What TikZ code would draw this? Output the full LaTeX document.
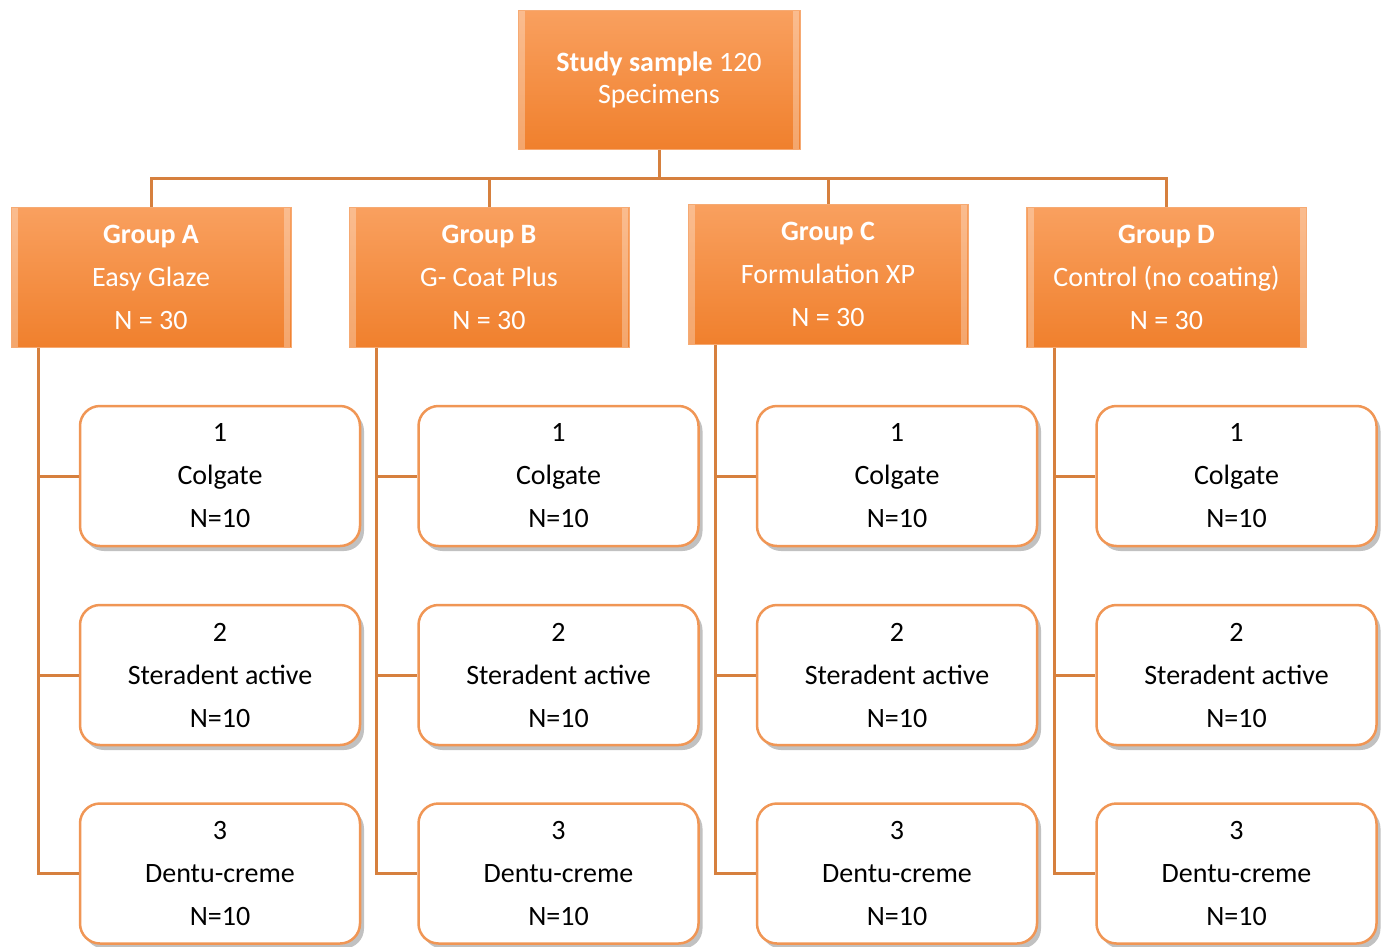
\documentclass[tikz,border=0pt]{standalone}
\usepackage{fontspec}
\setmainfont{Carlito}
\usetikzlibrary{shadows,calc}
\definecolor{orTop}{RGB}{249,160,95}
\definecolor{orBot}{RGB}{240,128,45}
\definecolor{orEdge}{RGB}{246,170,115}
\definecolor{conn}{RGB}{214,128,62}
\definecolor{leafEdge}{RGB}{240,150,85}
\tikzset{
  grp/.style={rectangle, minimum width=280pt, minimum height=140pt, inner sep=0pt,
    top color=orTop, bottom color=orBot, draw=orEdge, line width=1pt,
    text=white, align=center, font=\fontsize{28}{43}\selectfont,
    path picture={\draw[white, opacity=0.3, line width=6pt]
      ($(path picture bounding box.south west)+(4pt,-4pt)$) rectangle ($(path picture bounding box.north east)+(-4pt,4pt)$);}},
  topbox/.style={grp, minimum width=282pt, minimum height=139pt, font=\fontsize{28}{32}\selectfont},
  leaf/.style={rectangle, rounded corners=20pt, minimum width=280pt, minimum height=140pt, inner sep=0pt,
    draw=leafEdge, line width=2.5pt, fill=white, align=center, font=\fontsize{28}{43}\selectfont,
    drop shadow={shadow xshift=4pt, shadow yshift=-5pt, opacity=0.35, fill=black!70}},
  link/.style={draw=conn, line width=3pt},
}
\begin{document}
\begin{tikzpicture}[x=1pt,y=-1pt]
\useasboundingbox (0,0) rectangle (1389,946);
\node[topbox] (top) at (659,79.5) {\textbf{Study sample} 120\\Specimens};
\node[grp] (gA) at (151,277) {\textbf{Group A}\\Easy Glaze\\N = 30};
\node[grp] (gB) at (489,277) {\textbf{Group B}\\G- Coat Plus\\N = 30};
\node[grp] (gC) at (828,274) {\textbf{Group C}\\Formulation XP\\N = 30};
\node[grp] (gD) at (1166.5,277) {\textbf{Group D}\\Control (no coating)\\N = 30};
\foreach \g/\x in {A/220,B/558.5,C/897,D/1236.5}{
  \node[leaf] (\g1) at (\x,476) {1\\Colgate\\N=10};
  \node[leaf] (\g2) at (\x,675) {2\\Steradent active\\N=10};
  \node[leaf] (\g3) at (\x,873.5) {3\\Dentu-creme\\N=10};
}
\coordinate (bus) at (659,178);
\draw[link] (top.south) -- (bus);
\foreach \g in {A,B,C,D}{
  \draw[link] (bus) -| (g\g.north);
  \coordinate (s\g) at ($(g\g.south west)+(28,0)$);
  \draw[link] (s\g) |- (\g3.west);
  \draw[link] (s\g |- \g1.west) -- (\g1.west);
  \draw[link] (s\g |- \g2.west) -- (\g2.west);
}
\end{tikzpicture}
\end{document}
